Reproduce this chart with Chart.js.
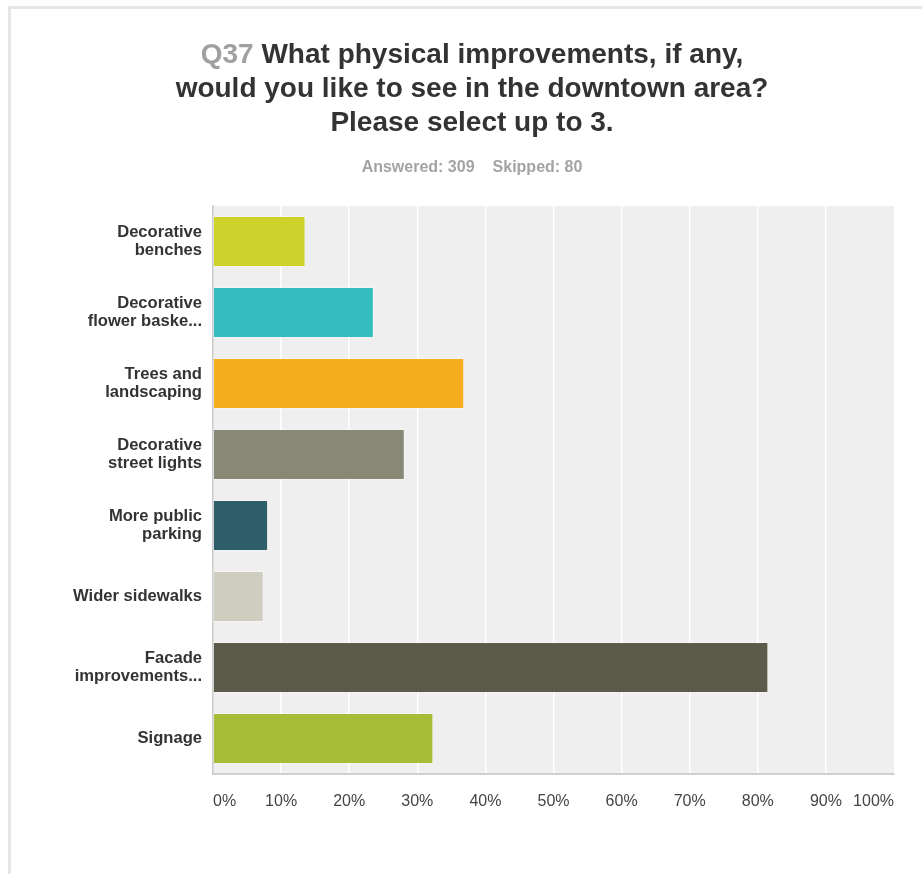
<!DOCTYPE html>
<html>
<head>
<meta charset="utf-8">
<title>Q37 physical improvements</title>
<script src="https://cdn.jsdelivr.net/npm/chart.js@4.4.1/dist/chart.umd.min.js"></script>
<style>
    body { margin: 0; background: #fff; overflow: hidden; }
    #page { position: relative; width: 922px; height: 874px; overflow: hidden; }
    #frame {
        position: absolute; left: 8px; top: 6px;
        width: 1200px; height: 1200px;
        border-top: 3px solid #e6e6e6;
        border-left: 3px solid #e6e6e6;
    }
    #title {
        position: absolute; left: 0; top: 37px; width: 944px;
        text-align: center;
        font: bold 28px "Liberation Sans", Arial, sans-serif;
        line-height: 34px;
        color: #333;
        z-index: 2;
    }
    #title .qnum { color: #a0a0a0; }
    #stats {
        position: absolute; left: 0; top: 157px; width: 944px;
        text-align: center;
        font: bold 16px "Liberation Sans", Arial, sans-serif;
        line-height: 20px;
        color: #a3a3a3;
        z-index: 2;
    }
    #stats span { margin: 0 9px; }
    #wrap { position: absolute; left: 0; top: 0; width: 922px; height: 874px; z-index: 1; }
</style>
</head>
<body>
<div id="page">
    <div id="frame"></div>
    <div id="title"><span class="qnum">Q37</span> What physical improvements, if any,<br>would you like to see in the downtown area?<br>Please select up to 3.</div>
    <div id="stats"><span>Answered: 309</span><span>Skipped: 80</span></div>
    <div id="wrap"><canvas id="chart"></canvas></div>
</div>

<script>
// answer choices (long ones are cut like in the survey export)
const categories = [
    ["Decorative", "benches"],
    ["Decorative", "flower baske..."],
    ["Trees and", "landscaping"],
    ["Decorative", "street lights"],
    ["More public", "parking"],
    "Wider sidewalks",
    ["Facade", "improvements..."],
    "Signage"
];

// percent of respondents (309 answered)
const percentValues = [13.59, 23.62, 36.89, 28.16, 8.09, 7.44, 81.55, 32.36];

const barColors = ["#cdd32a", "#33bdbf", "#f6ae1f", "#888877", "#2d5e6a", "#cfcdbf", "#5c5a4b", "#a8bd37"];

const tickValues = [0, 10, 20, 30, 40, 50, 60, 70, 80, 90, 100];

// grey plot background behind bars
const plotBackground = {
    id: "plotBackground",
    beforeDraw(chart) {
        const a = chart.chartArea;
        const ctx = chart.ctx;
        ctx.save();
        ctx.fillStyle = "#efefef";
        ctx.fillRect(a.left, a.top, a.right - a.left, a.bottom - a.top);
        ctx.restore();
    }
};

new Chart(document.getElementById("chart").getContext("2d"), {
    type: "bar",
    data: {
        labels: categories,
        datasets: [{
            data: percentValues,
            backgroundColor: barColors,
            borderColor: "rgba(255,255,255,0.35)",
            borderWidth: 1,
            barPercentage: 0.72,
            categoryPercentage: 1
        }]
    },
    options: {
        indexAxis: "y",
        responsive: true,
        maintainAspectRatio: false,
        animation: false,
        layout: { padding: { top: 206, right: 28, bottom: 60, left: 0 } },
        plugins: {
            legend: { display: false },
            tooltip: { enabled: false },
            title: { display: false }
        },
        scales: {
            x: {
                min: 0,
                max: 100,
                afterBuildTicks: (scale) => {
                    scale.ticks = tickValues.map(v => ({ value: v }));
                },
                afterFit: (scale) => { scale.height = 40; },
                grid: {
                    color: (c) => (c.tick && (c.tick.value === 0 || c.tick.value === 100)) ? "rgba(0,0,0,0)" : "#ffffff",
                    lineWidth: 1.5,
                    drawTicks: false
                },
                border: { display: true, color: "#cfcfcf", width: 2 },
                ticks: {
                    align: "inner",
                    padding: 18,
                    color: "#444",
                    font: { family: "'Liberation Sans', Arial, sans-serif", size: 16 },
                    callback: (v) => v + "%"
                }
            },
            y: {
                afterFit: (scale) => { scale.width = 213; },
                grid: { display: false, drawTicks: false },
                border: { display: true, color: "#cccccc", width: 1.5 },
                ticks: {
                    padding: 11,
                    color: "#333",
                    font: { family: "'Liberation Sans', Arial, sans-serif", size: 16.6, weight: "bold", lineHeight: 1.06 }
                }
            }
        }
    },
    plugins: [plotBackground]
});
</script>
</body>
</html>
